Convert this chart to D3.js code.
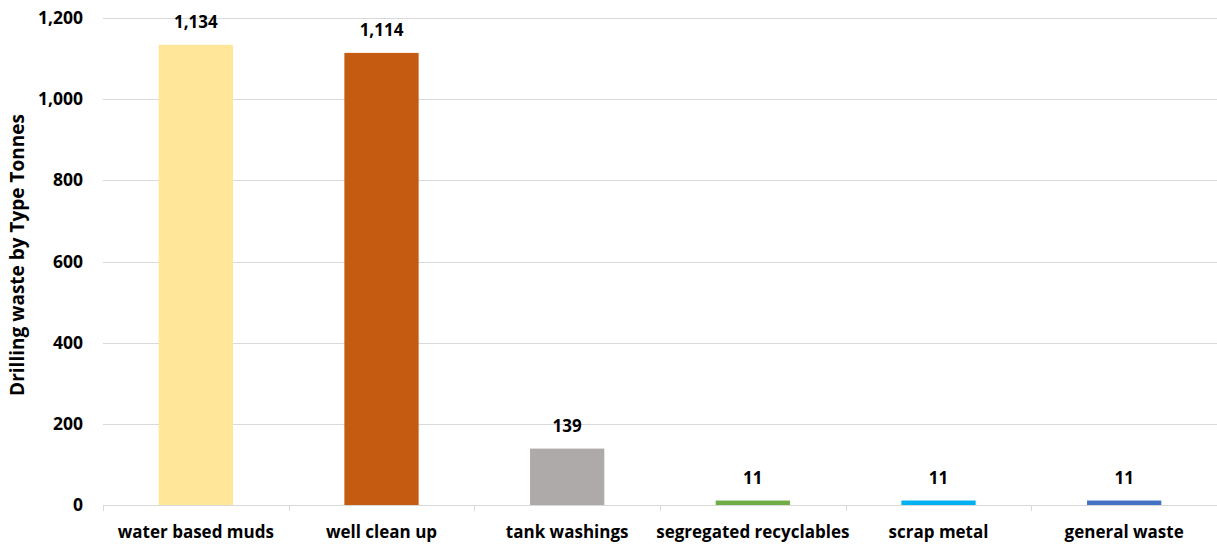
<!DOCTYPE html>
<html>
<head>
<meta charset="utf-8">
<script src="https://cdn.jsdelivr.net/npm/d3@7"></script>
<style>
  html, body { margin: 0; padding: 0; background: #fff; }
  svg text { font-family: "Open Sans", Lato, sans-serif; font-weight: bold; fill: #000; }
</style>
</head>
<body>
<svg id="chart" width="1217" height="544"></svg>
<script>
// Drilling waste by type, tonnes
const categories = ["water based muds", "well clean up", "tank washings", "segregated recyclables", "scrap metal", "general waste"];
const values = [1134, 1114, 139, 11, 11, 11];
const valueLabels = ["1,134", "1,114", "139", "11", "11", "11"];
const colors = ["#FFE699", "#C55A11", "#AEAAAA", "#70AD47", "#00B0F0", "#4472C4"];
const yTicks = [0, 200, 400, 600, 800, 1000, 1200];

const svg = d3.select("#chart");
const plotLeft = 103, plotRight = 1217, plotTop = 18, plotBottom = 505;

const x = d3.scaleBand().domain(categories).range([plotLeft, plotRight]).paddingInner(0.6).paddingOuter(0.3);
const y = d3.scaleLinear().domain([0, 1200]).range([plotBottom, plotTop]);

// horizontal gridlines
svg.append("g").selectAll("line").data(yTicks.filter(d => d > 0)).join("line")
  .attr("x1", plotLeft).attr("x2", plotRight)
  .attr("y1", d => Math.round(y(d)) + 0.5).attr("y2", d => Math.round(y(d)) + 0.5)
  .attr("stroke", "#d9d9d9").attr("stroke-width", 1);

// y tick labels
const yAxis = svg.append("g").attr("transform", `translate(${plotLeft},0)`)
  .call(d3.axisLeft(y).tickValues(yTicks).tickFormat(d3.format(",")).tickSize(0).tickPadding(20));
yAxis.select(".domain").remove();
yAxis.selectAll("text").style("font-size", "17.5px").style("font-family", "'Open Sans', sans-serif").style("font-weight", "bold");

// y axis title
svg.append("text")
  .attr("transform", "translate(24,255) rotate(-90)")
  .attr("text-anchor", "middle")
  .style("font-size", "19px")
  .text("Drilling waste by Type Tonnes");

// bars
svg.append("g").selectAll("rect").data(values).join("rect")
  .attr("x", (d, i) => x(categories[i]))
  .attr("width", x.bandwidth())
  .attr("y", d => y(d))
  .attr("height", d => y(0) - y(d))
  .attr("fill", (d, i) => colors[i]);

// value labels
svg.append("g").selectAll("text").data(values).join("text")
  .attr("x", (d, i) => x(categories[i]) + x.bandwidth() / 2)
  .attr("y", d => y(d) - 17)
  .attr("text-anchor", "middle")
  .style("font-size", "17px")
  .text((d, i) => valueLabels[i]);

// x axis line with boundary ticks
const bounds = d3.range(categories.length + 1).map(i => plotLeft + i * (plotRight - plotLeft) / categories.length);
svg.append("line").attr("x1", plotLeft).attr("x2", plotRight).attr("y1", plotBottom + 0.5).attr("y2", plotBottom + 0.5)
  .attr("stroke", "#d9d9d9").attr("stroke-width", 1);
svg.append("g").selectAll("line").data(bounds).join("line")
  .attr("x1", d => Math.round(d) + 0.5).attr("x2", d => Math.round(d) + 0.5)
  .attr("y1", plotBottom).attr("y2", plotBottom + 6)
  .attr("stroke", "#d9d9d9");

// category labels
svg.append("g").selectAll("text").data(categories).join("text")
  .attr("x", d => x(d) + x.bandwidth() / 2)
  .attr("y", 538)
  .attr("text-anchor", "middle")
  .style("font-size", "17px")
  .text(d => d);
</script>
</body>
</html>
